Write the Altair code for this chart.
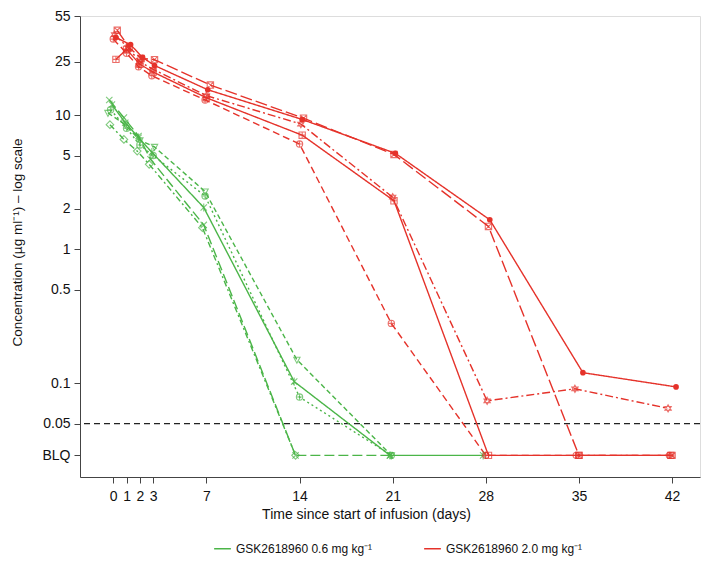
import altair as alt
import pandas as pd

# ---------------- data ----------------
BLQ_LEVEL = 0.029  # position at which "BLQ" values are drawn

LOW_DOSE = "GSK2618960 0.6 mg kg⁻¹"
HIGH_DOSE = "GSK2618960 2.0 mg kg⁻¹"

# 0.6 mg/kg subjects
G1_days = [-0.1, 0.9, 1.9, 2.9, 6.8, 13.6, 20.8, 27.8]
G1_conc = [12.0, 8.8, 6.8, 5.3, 2.05, 0.103, "BLQ", "BLQ"]
G2_days = [-0.4, 0.9, 2.0, 3.1, 6.9, 13.8, 20.9]
G2_conc = [10.4, 8.5, 6.5, 5.8, 2.7, 0.15, "BLQ"]
G3_days = [-0.2, 1.0, 2.0, 3.0, 6.9, 14.0, 20.9]
G3_conc = [11.0, 8.0, 6.0, 5.0, 2.5, 0.079, "BLQ"]
G4_days = [-0.25, 0.8, 1.8, 2.7, 6.7, 13.7]
G4_conc = [8.5, 6.6, 5.4, 4.3, 1.45, "BLQ"]
G5_days = [-0.3, 0.8, 1.9, 2.8, 6.8, 13.7, 20.8]
G5_conc = [13.0, 9.6, 7.0, 4.7, 1.52, "BLQ", "BLQ"]

# 2.0 mg/kg subjects
R1_days = [0.2, 1.3, 2.2, 3.1, 7.1, 14.2, 21.2, 28.3, 35.3, 42.3]
R1_conc = [38.0, 33.6, 27.0, 23.5, 15.5, 9.3, 5.2, 1.66, 0.12, 0.094]
R2_days = [0.3, 1.2, 2.1, 3.1, 7.3, 14.3, 21.1, 28.2, 35.0, 42.0]
R2_conc = [43.0, 32.0, 26.5, 26.0, 16.8, 9.5, 5.1, 1.48, "BLQ", "BLQ"]
R3_days = [0.1, 1.1, 2.0, 3.0, 7.0, 14.1, 21.0, 28.1, 34.7, 41.7]
R3_conc = [40.0, 32.0, 25.0, 22.0, 14.0, 8.6, 2.45, 0.074, 0.091, 0.065]
R4_days = [0.2, 1.0, 2.0, 3.0, 7.0, 14.2, 21.1, 28.2, 35.0, 41.9]
R4_conc = [26.1, 31.0, 24.0, 21.0, 13.5, 7.1, 2.3, "BLQ", "BLQ", "BLQ"]
R5_days = [0.0, 1.0, 1.9, 2.9, 6.9, 14.0, 20.9, 28.0, 34.8, 41.8]
R5_conc = [37.0, 29.0, 23.0, 19.7, 13.0, 6.1, 0.28, "BLQ", "BLQ", "BLQ"]

X_TICKS = [0, 1, 2, 3, 7, 14, 21, 28, 35, 42]
Y_TICKS = [BLQ_LEVEL, 0.05, 0.1, 0.5, 1, 2, 5, 10, 25, 55]
LLOQ = 0.05

# ---------------- styling ----------------
GREEN = "#4BB548"
RED = "#E5322A"

subjects = [
    ("G1", LOW_DOSE, G1_days, G1_conc),
    ("G2", LOW_DOSE, G2_days, G2_conc),
    ("G3", LOW_DOSE, G3_days, G3_conc),
    ("G4", LOW_DOSE, G4_days, G4_conc),
    ("G5", LOW_DOSE, G5_days, G5_conc),
    ("R1", HIGH_DOSE, R1_days, R1_conc),
    ("R2", HIGH_DOSE, R2_days, R2_conc),
    ("R3", HIGH_DOSE, R3_days, R3_conc),
    ("R4", HIGH_DOSE, R4_days, R4_conc),
    ("R5", HIGH_DOSE, R5_days, R5_conc),
]

SUBJ = ["G1", "G2", "G3", "G4", "G5", "R1", "R2", "R3", "R4", "R5"]
DASHES = [[1, 0], [5, 3], [2, 3], [6, 3, 2, 3], [10, 4],
          [1, 0], [12, 4], [8, 3, 2, 3], [1, 0], [7, 4]]

ASTER = "M-1,-1L1,1M-1,1L1,-1M0,-1.3L0,1.3"
XMARK = "M-1,-1L1,1M-1,1L1,-1"
DIAM = "M0,-1.2L1.2,0L0,1.2L-1.2,0Z"
CPLUS = "M-1,0A1,1 0 1,0 1,0A1,1 0 1,0 -1,0ZM-1,0H1M0,-1V1"
BOXX = "M-1,-1H1V1H-1ZM-1,-1L1,1M-1,1L1,-1"
BOXP = "M-1,-1H1V1H-1ZM0,-1V1M-1,0H1"
DAVID = "M0,-1.15L1,0.58L-1,0.58ZM0,1.15L1,-0.58L-1,-0.58Z"
TRID = "M0,1.1L1,-0.8L-1,-0.8Z"
SHAPES = [ASTER, TRID, CPLUS, DIAM, XMARK,
          "circle", BOXX, DAVID, BOXP, CPLUS]

rows = []
for sid, grp, days, conc in subjects:
    for d, c in zip(days, conc):
        rows.append({"subject": sid, "group": grp, "day": d,
                     "conc": BLQ_LEVEL if c == "BLQ" else c})
df = pd.DataFrame(rows)

FONT = "Liberation Sans"

x_enc = alt.X(
    "day:Q",
    scale=alt.Scale(domain=[-2.5, 44.1], nice=False, zero=False),
    axis=alt.Axis(
        values=X_TICKS, title="Time since start of infusion (days)",
        grid=False, tickSize=6, labelPadding=6, labelFontSize=14,
        titleFontSize=14, titleFontWeight="normal", titleX=286, titleY=37,
        titleBaseline="middle", titleAlign="center",
        domainColor="#444444", tickColor="#444444", labelColor="#111111",
        titleColor="#111111", labelFont=FONT, titleFont=FONT,
    ),
)
y_enc = alt.Y(
    "conc:Q",
    scale=alt.Scale(type="log", domain=[0.020, 55], nice=False),
    axis=alt.Axis(
        values=Y_TICKS,
        labelExpr="datum.value < 0.04 ? 'BLQ' : format(datum.value, '~g')",
        title="Concentration (µg ml⁻¹) – log scale",
        grid=False, tickSize=6, labelPadding=4, labelFontSize=14,
        titleFontSize=13.5, titleFontWeight="normal", titleX=-63, titleY=226,
        titleAngle=270, titleBaseline="middle", titleAlign="center",
        domainColor="#444444", tickColor="#444444", labelColor="#111111",
        titleColor="#111111", labelFont=FONT, titleFont=FONT,
    ),
)

color_scale = alt.Scale(domain=[LOW_DOSE, HIGH_DOSE], range=[GREEN, RED])

lines = alt.Chart(df).mark_line(strokeWidth=1.4).encode(
    x=x_enc,
    y=y_enc,
    color=alt.Color(
        "group:N", scale=color_scale,
        legend=alt.Legend(
            title=None, orient="none", legendX=133, legendY=523,
            direction="horizontal", symbolType="stroke", symbolSize=280,
            symbolStrokeWidth=1.5, labelFontSize=12, labelFont=FONT,
            labelColor="#111111", columnPadding=48, labelLimit=300,
            labelOffset=4,
        ),
    ),
    strokeDash=alt.StrokeDash(
        "subject:N", scale=alt.Scale(domain=SUBJ, range=DASHES), legend=None
    ),
    detail="subject:N",
    order="day:Q",
)

open_pts = alt.Chart(df).transform_filter(
    alt.datum.subject != "R1"
).mark_point(filled=False, size=40, strokeWidth=1.1).encode(
    x="day:Q",
    y="conc:Q",
    color=alt.Color("group:N", scale=color_scale, legend=None),
    shape=alt.Shape("subject:N", scale=alt.Scale(domain=SUBJ, range=SHAPES),
                    legend=None),
)

filled_pts = alt.Chart(df).transform_filter(
    alt.datum.subject == "R1"
).mark_point(filled=True, size=32, shape="circle", opacity=1).encode(
    x="day:Q",
    y="conc:Q",
    color=alt.Color("group:N", scale=color_scale, legend=None),
)

lloq = alt.Chart(pd.DataFrame({"lloq": [LLOQ]})).mark_rule(
    color="#222222", strokeDash=[6, 4], strokeWidth=1.3
).encode(y="lloq:Q")

chart = alt.layer(lloq, lines, open_pts, filled_pts).properties(
    width=620, height=461,
    autosize=alt.AutoSizeParams(type="none"),
    padding={"left": 72, "top": 8, "right": 1, "bottom": 84},
).configure_view(stroke=None).configure(font=FONT)

chart.save("out.html", embed_options={"renderer": "svg", "actions": False})
